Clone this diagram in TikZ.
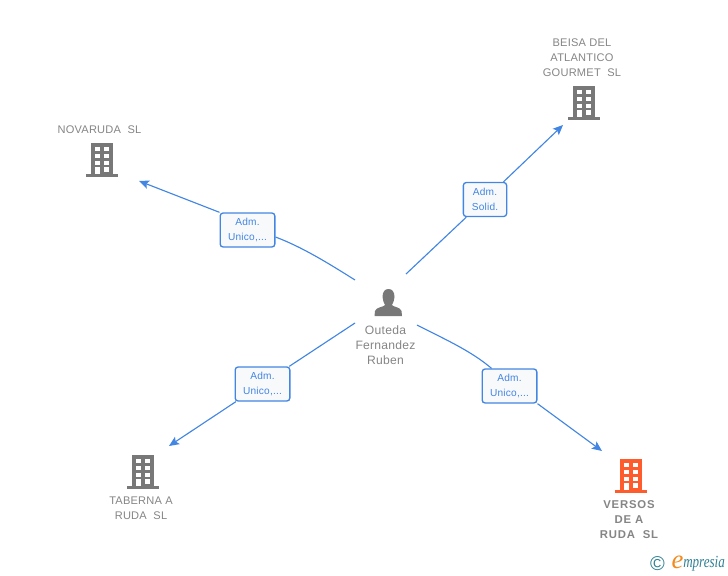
\documentclass[tikz,border=0pt]{standalone}
\usepackage{fontspec}
\usepackage{graphicx}
\setmainfont{Liberation Sans}
\newfontfamily\spaced[LetterSpace=2]{Liberation Sans}
\newfontfamily\boldspaced[LetterSpace=7]{Liberation Sans}
\newfontfamily\logofont{Liberation Serif}
\usetikzlibrary{arrows.meta,calc,backgrounds}
\definecolor{icongrey}{HTML}{787878}
\definecolor{textgrey}{HTML}{858585}
\definecolor{linkblue}{HTML}{4285E2}
\definecolor{boxfill}{HTML}{F8F9FB}
\definecolor{iconorange}{HTML}{FF5C2E}
\definecolor{logoteal}{HTML}{2F7F93}
\definecolor{logoorange}{HTML}{F28A1E}
\tikzset{
  x=0.75pt,y=-0.75pt,
  link/.style={draw=linkblue,line width=0.85pt},
  linkarrow/.style={link,-{Stealth[length=7.5pt,width=6.5pt,inset=1.5pt]}},
  rolebox/.style={draw=linkblue,line width=1pt,rounded corners=2.2pt,fill=boxfill,text=linkblue,
    minimum width=41pt,minimum height=25.5pt,inner sep=0pt,align=center,
    font=\spaced\fontsize{7.6}{11.6}\selectfont},
  company/.style={text=textgrey,align=center,inner sep=0pt,font=\spaced\fontsize{8.3}{11.25}\selectfont},
  person/.style={text=textgrey,align=center,inner sep=0pt,font=\spaced\fontsize{9.1}{11.25}\selectfont},
  building/.pic={
    \fill[pic actions] (-11,-17) rectangle (11,14);
    \fill[pic actions] (-16,14) rectangle (16,17);
    \foreach \wy in {-12.8,-6,0.6}{
      \fill[white] (-7.5,\wy) rectangle (-2.5,\wy+4);
      \fill[white] (2,\wy) rectangle (7,\wy+4);
    }
    \fill[white] (-7.5,7.4) rectangle (-2.5,14);
    \fill[white] (2,7.4) rectangle (7,11.5);
  },
}
\begin{document}
\begin{tikzpicture}
\useasboundingbox (0,0) rectangle (728,575);
% free ends of the connectors
\coordinate (pnw) at (355,280);
\coordinate (pne) at (406,274);
\coordinate (psw) at (355,323);
\coordinate (pse) at (417,325);
\coordinate (tipn) at (139,181);
\coordinate (tipb) at (563,125);
\coordinate (tipt) at (169,446);
\coordinate (tipv) at (602,451);
% role labels
\node[rolebox] (r1) at (247.5,230) {Adm.\\Unico,...};
\node[rolebox,minimum width=32.5pt] (r2) at (485,199.5) {Adm.\\Solid.};
\node[rolebox] (r3) at (262.5,384) {Adm.\\Unico,...};
\node[rolebox] (r4) at (509.5,386) {Adm.\\Unico,...};
% connectors, behind the role labels
\begin{scope}[on background layer]
\draw[link] (pnw) .. controls (328,263) and (302,247) .. ($(r1.east)+(0,7)$);
\draw[linkarrow] (r1.north west) -- (tipn);
\draw[link] (pne) -- (r2);
\draw[linkarrow] (r2) -- (tipb);
\draw[link] (psw) -- (r3);
\draw[linkarrow] (r3) -- (tipt);
\draw[link] (pse) .. controls (442,338) and (470,350) .. ($(r4.north)+(-18,0)$);
\draw[linkarrow] (r4.south east) -- (tipv);
\end{scope}
% company icons
\pic[fill=icongrey] at (102,160) {building};
\pic[fill=icongrey] at (584,103) {building};
\pic[fill=icongrey] at (143,472) {building};
\pic[fill=iconorange] at (631,476) {building};
% company names
\node[company] (novaruda) at (99.5,129.5) {NOVARUDA\ \ SL};
\node[company] (beisa) at (582,58) {BEISA DEL\\ATLANTICO\\GOURMET\ \ SL};
\node[company] (taberna) at (141,508.5) {TABERNA A\\RUDA\ \ SL};
\node[text=textgrey,align=center,inner sep=0pt,font=\boldspaced\bfseries\fontsize{8.5}{11.25}\selectfont] (versos) at (629,520) {VERSOS\\DE A\\RUDA\ \ SL};
% person icon
\fill[icongrey] (382.5,297) .. controls (382.5,291.5) and (385,289) .. (388.5,289)
  .. controls (392,289) and (394.5,291.5) .. (394.5,297)
  .. controls (394.5,300) and (393,303) .. (392,305)
  .. controls (393,307) and (400.5,307) .. (401.5,311)
  -- (402,316) -- (374.5,316) -- (375,311)
  .. controls (376,307) and (384,307) .. (385,305)
  .. controls (384,303) and (382.5,300) .. cycle;
\node[person] (outeda) at (385.5,345) {Outeda\\Fernandez\\Ruben};
% logo
\node[text=logoteal,inner sep=0pt,font=\fontsize{15}{15}\selectfont] (copy) at (657.5,564) {©};
\node[text=logoorange,inner sep=0pt,font=\logofont\itshape\fontsize{20}{20}\selectfont] (loge) at (677.5,562.5) {e};
\node[text=logoteal,inner sep=0pt,anchor=west,font=\logofont\itshape\fontsize{9.8}{10}\selectfont] (logr) at (683,564) {\scalebox{1}[1.3]{mpresia}};
\end{tikzpicture}
\end{document}
